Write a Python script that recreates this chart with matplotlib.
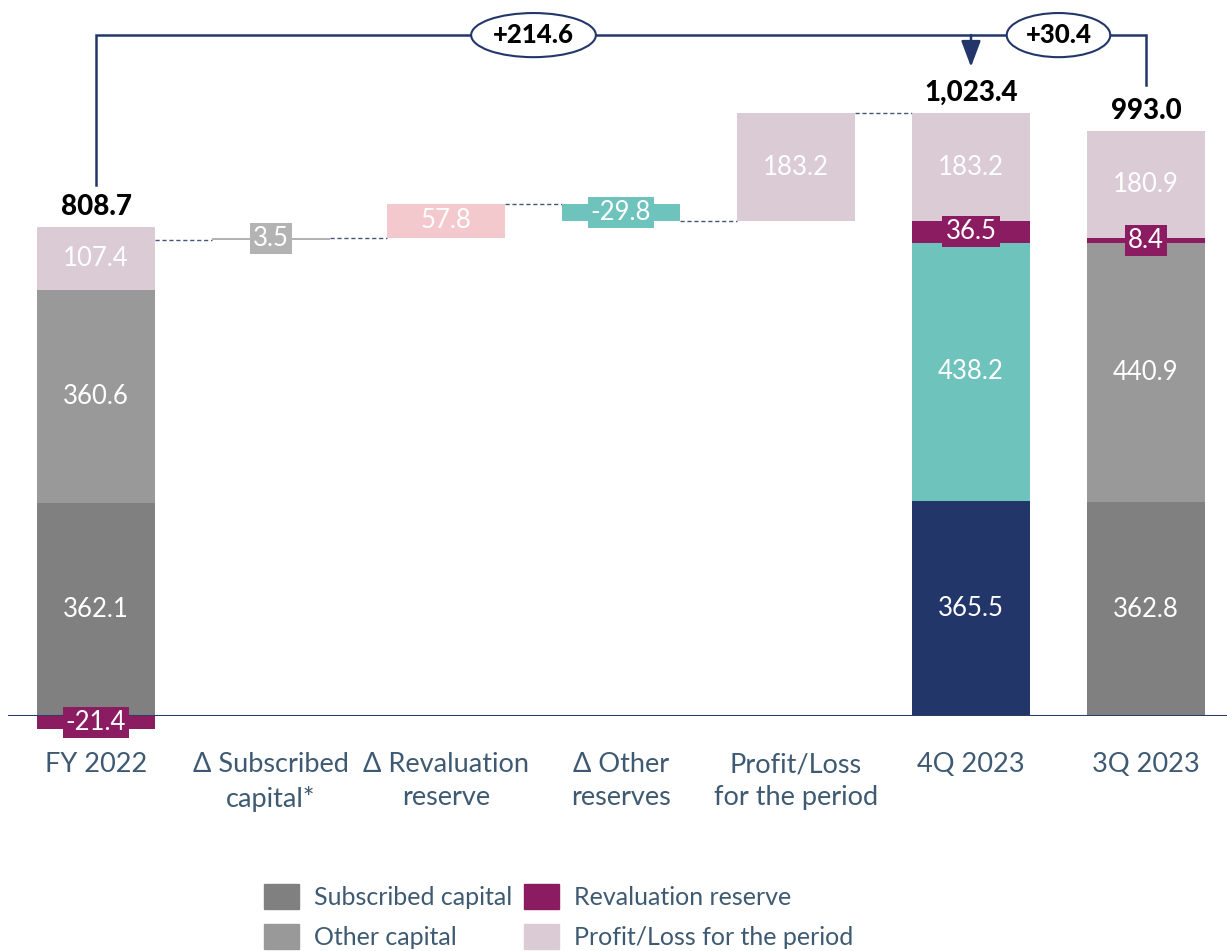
import matplotlib.pyplot as plt
from matplotlib.patches import Patch

plt.rcParams['font.family'] = ['Lato', 'DejaVu Sans']

categories = ["FY 2022", "Δ Subscribed\ncapital*", "Δ Revaluation\nreserve",
              "Δ Other\nreserves", "Profit/Loss\nfor the period", "4Q 2023", "3Q 2023"]

# stacked components, bottom to top
fy2022_values = [362.1, 360.6, -21.4, 107.4]
fy2022_total = 808.7
q4_2023_values = [365.5, 438.2, 36.5, 183.2]
q4_2023_total = 1023.4
q3_2023_values = [362.8, 440.9, 8.4, 180.9]
q3_2023_total = 993.0

# changes between FY 2022 and 4Q 2023
bridge_deltas = [3.5, 57.8, -29.8, 183.2]
# period-on-period changes shown on the bracket
period_changes = [214.6, 30.4]

legend_labels = ["Subscribed capital", "Other capital",
                 "Revaluation reserve", "Profit/Loss for the period"]

DARK_GREY = "#808080"
GREY = "#999999"
PURPLE = "#8c1c62"
MAUVE = "#dacbd5"
NAVY = "#22366a"
TEAL = "#6ec3bd"
PINK = "#f4c9ce"
LIGHT_GREY = "#b3b3b3"
TICK_COLOR = "#3e5a72"

fig = plt.figure(figsize=(12.27, 9.51), dpi=100)
ax = fig.add_axes([8 / 1227, (951 - 716) / 951, 1 - 8 / 1227, 716 / 951])
ax.set_xlim(-0.503, 6.463)
ax.set_ylim(0, 1215.6)
for s in ax.spines.values():
    s.set_visible(False)
ax.set_yticks([])

W = 0.67


def label(x, y, text, box=None):
    kw = {}
    if box is not None:
        kw["bbox"] = dict(boxstyle="square,pad=0.12", fc=box, ec="none")
    ax.text(x, y, text, ha="center", va="center", color="white", fontsize=18.5, zorder=5, **kw)


def stacked(x, values, colors, boxed):
    pos, neg = 0.0, 0.0
    for v, c, b in zip(values, colors, boxed):
        if v >= 0:
            bottom = pos
            pos += v
        else:
            neg += v
            bottom = neg
        ax.bar(x, abs(v), W, bottom=bottom, color=c, clip_on=False, zorder=2)
        label(x, bottom + abs(v) / 2, f"{v:.1f}", box=c if b else None)
    return pos


fy_top = stacked(0, fy2022_values, [DARK_GREY, GREY, PURPLE, MAUVE], [False, False, True, False])
q4_top = stacked(5, q4_2023_values, [NAVY, TEAL, PURPLE, MAUVE], [False, False, True, False])
q3_top = stacked(6, q3_2023_values, [DARK_GREY, GREY, PURPLE, MAUVE], [False, False, True, False])

for x, top, total in [(0, fy_top, fy2022_total), (5, q4_top, q4_2023_total), (6, q3_top, q3_2023_total)]:
    ax.annotate(f"{total:,.1f}", (x, top), xytext=(0, 5), textcoords="offset points",
                ha="center", va="bottom", fontsize=20, fontweight="black", color="black")

# waterfall from FY 2022 to 4Q 2023
bridge_colors = [LIGHT_GREY, PINK, TEAL, MAUVE]
bridge_boxed = [True, False, True, False]
level = fy2022_total
ax.plot([W / 2, 1 - W / 2], [level, level], ls=(0, (3, 2)), color="#44557a", lw=1, zorder=1)
for i, (d, c, b) in enumerate(zip(bridge_deltas, bridge_colors, bridge_boxed), start=1):
    bottom = level if d >= 0 else level + d
    ax.bar(i, abs(d), W, bottom=bottom, color=c, zorder=2)
    label(i, bottom + abs(d) / 2, f"{d:.1f}", box=c if b else None)
    level += d
    ax.plot([i + W / 2, i + 1 - W / 2], [level, level], ls=(0, (3, 2)),
            color="#44557a", lw=1, zorder=1)

ax.axhline(0, color="#2b3f66", lw=1.5, zorder=3)

# bracket showing the change between periods
bracket_y = 1156
ax.plot([0, 0, 6, 6], [901, bracket_y, bracket_y, 1071], color=NAVY, lw=1.8,
        solid_joinstyle="miter", zorder=3)
ax.annotate("", xy=(5, 1102), xytext=(5, bracket_y),
            arrowprops=dict(arrowstyle="-|>,head_length=0.8,head_width=0.3",
                            color=NAVY, lw=1.8, mutation_scale=20, shrinkA=0, shrinkB=0))
for x, change in zip([2.5, 5.5], period_changes):
    ax.text(x, bracket_y, f"+{change:.1f}", ha="center", va="center", fontsize=18.5,
            fontweight="black", color="black", zorder=4,
            bbox=dict(boxstyle="ellipse,pad=0.14", fc="white", ec=NAVY, lw=1.5))

ax.set_xticks(range(len(categories)))
ax.set_xticklabels(categories, fontsize=19.5, color=TICK_COLOR, linespacing=1.4)
ax.tick_params(axis="x", length=0, pad=26)

handles = [Patch(color=c) for c in [DARK_GREY, GREY, PURPLE, MAUVE]]
fig.legend(handles, legend_labels, loc="upper left", bbox_to_anchor=(264 / 1227, 1 - 884 / 951),
           ncol=2, frameon=False, fontsize=18, handlelength=1.4, handleheight=1.15,
           handletextpad=0.6, columnspacing=0.45, labelspacing=0.6, labelcolor=TICK_COLOR,
           borderaxespad=0, borderpad=0)

fig.savefig("out.png", dpi=100)
